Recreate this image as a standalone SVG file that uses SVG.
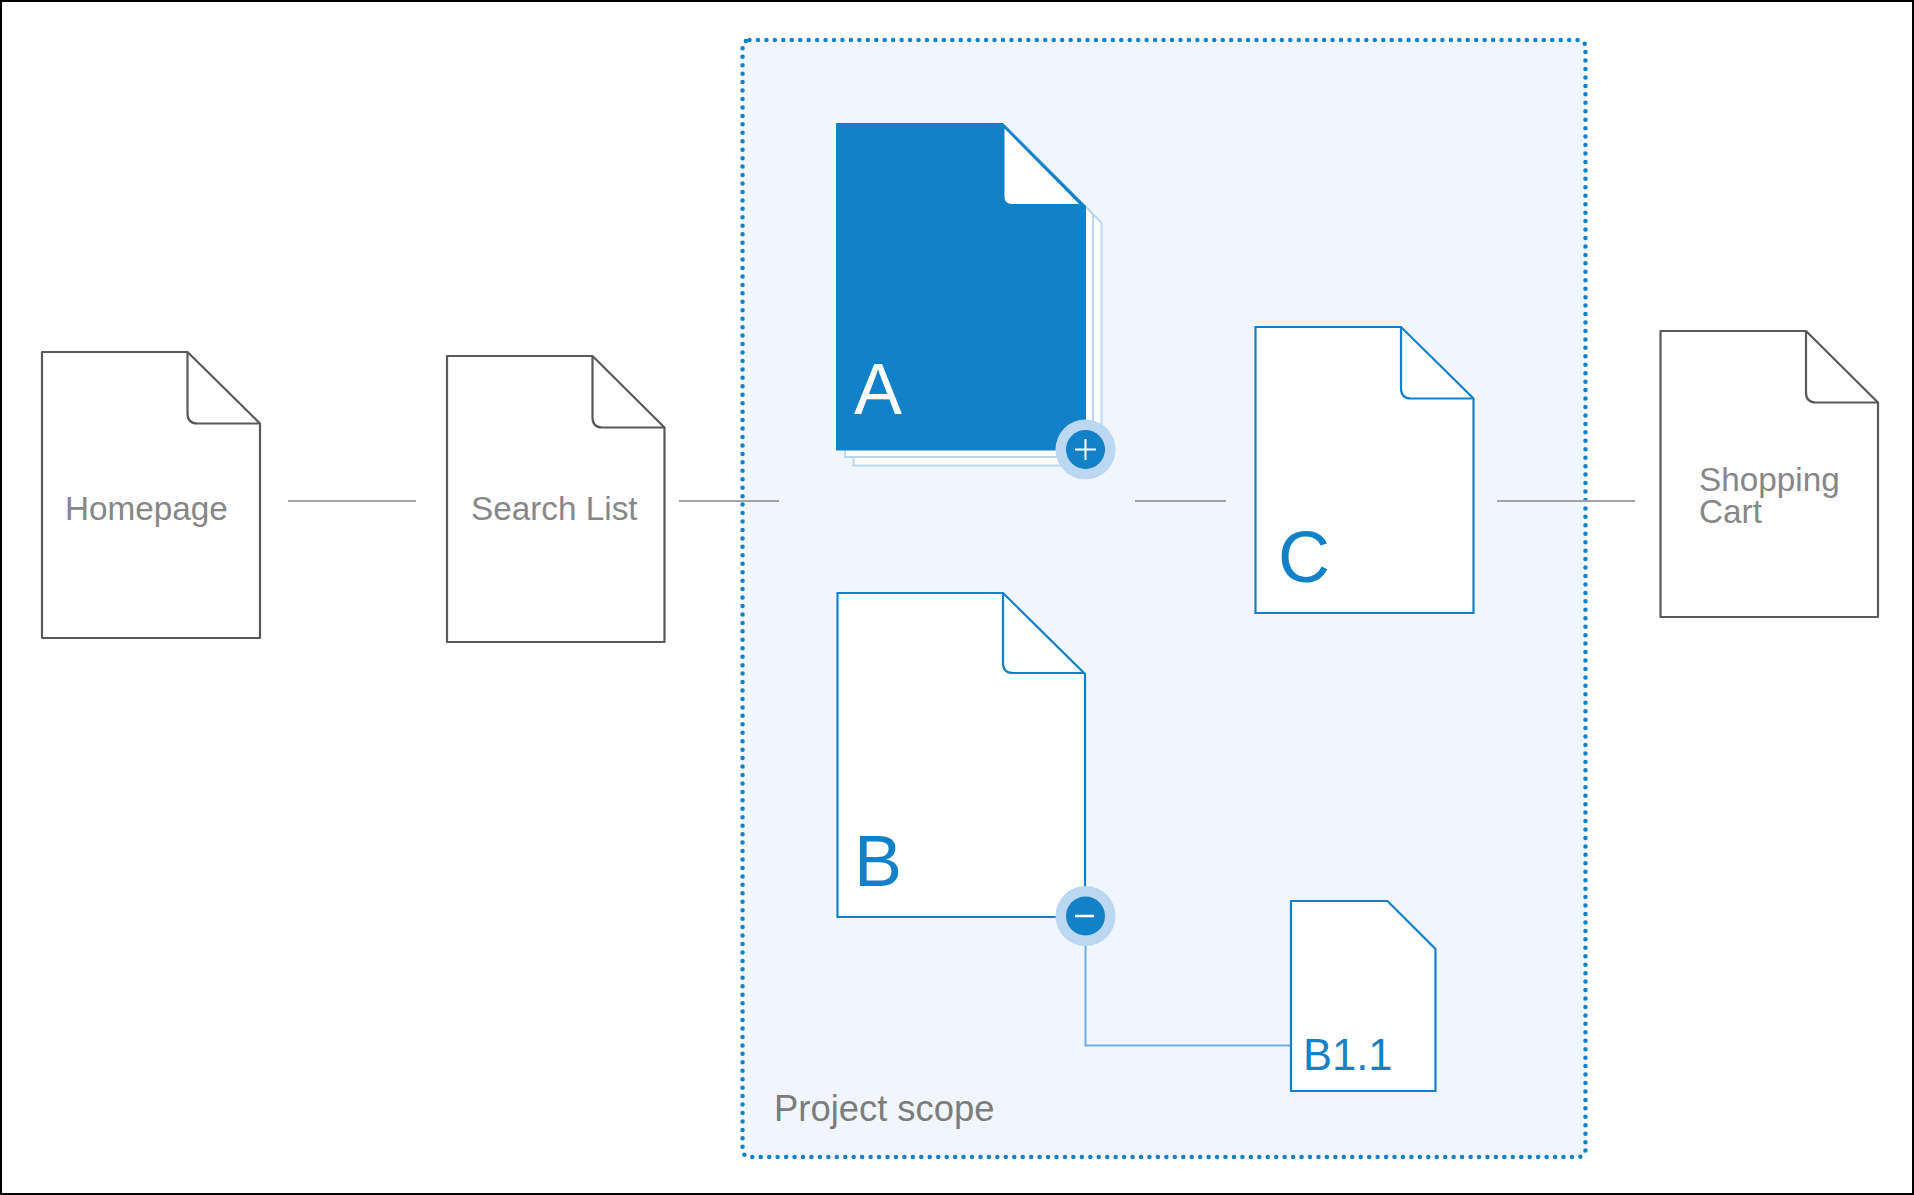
<svg xmlns="http://www.w3.org/2000/svg" width="1914" height="1195" viewBox="0 0 1914 1195">
<style>
text{font-family:"Liberation Sans",Arial,sans-serif}
.g{fill:#fff;stroke:#595959;stroke-width:2.2;stroke-linejoin:round}
.gf{fill:none;stroke:#595959;stroke-width:2.2}
.b{fill:#fff;stroke:#1381c8;stroke-width:2.2}
.bf{fill:none;stroke:#1381c8;stroke-width:2.2}
.l{fill:#878787;font-size:33.3px}
.c{fill:none;stroke:#a3a3a3;stroke-width:2}
.big{fill:#1381c8;font-size:72px}
.st{fill:#fff;stroke:#bcd7f1;stroke-width:2}
</style>
<rect width="1914" height="1195" fill="#fff"/>
<g id="scope">
<rect x="742.500" y="40" width="843" height="1117" rx="7" fill="#f1f6fe" stroke="#1381c8" stroke-width="4.500" stroke-linecap="round" stroke-dasharray="0 8.450"/>
<text x="774" y="1121" font-size="36.400" fill="#7d7d7d">Project scope</text>
</g>
<g id="connectors">
<path class="c" d="M288 501H416"/>
<path class="c" d="M679 501H779"/>
<path class="c" d="M1135 501H1226"/>
<path class="c" d="M1497 501H1635"/>
<path d="M1085.500 946V1045.500H1291" fill="none" stroke="#6aaede" stroke-width="2"/>
</g>
<g id="homepage">
<path class="g" d="M42 352H187.500L260 423.500V638H42Z"/>
<path class="gf" d="M187.500 352V413.500Q187.500 423.500 197.500 423.500H260"/>
<text class="l" x="65" y="520">Homepage</text>
</g>
<g id="search-list">
<path class="g" d="M447 356H592.500L664.500 427.500V642H447Z"/>
<path class="gf" d="M592.500 356V417.500Q592.500 427.500 602.500 427.500H664.500"/>
<text class="l" x="471" y="520">Search List</text>
</g>
<g id="page-a">
<path class="st" d="M1085 206L1101.500 223V465.500H853.500V450Z"/>
<path class="st" d="M1085 206L1093 214.500V457H845V450Z"/>
<path d="M836.500 123.500H1003L1085.500 206V450H836.500Z" fill="#1381c8" stroke="#1381c8" stroke-width="1"/>
<path d="M1004.500 128.500L1079 204H1012Q1004.500 204 1004.500 196.500Z" fill="#fff"/>
<text x="854" y="414" font-size="72" fill="#fff">A</text>
<circle cx="1085.500" cy="449.500" r="30" fill="#bcd7f1"/>
<circle cx="1085.500" cy="449.500" r="19.500" fill="#1381c8"/>
<path d="M1075 449.500H1096M1085.500 439V460" stroke="#fff" stroke-width="2" fill="none"/>
</g>
<g id="page-b">
<path class="b" d="M837.500 593H1003L1085 674V917H837.500Z"/>
<path class="bf" d="M1003 593V663Q1003 673 1013 673H1085"/>
<text class="big" x="854" y="886">B</text>
<circle cx="1085.500" cy="916" r="30" fill="#bcd7f1"/>
<circle cx="1085.500" cy="916" r="19.500" fill="#1381c8"/>
<path d="M1075 916H1094" stroke="#fff" stroke-width="2.500" fill="none"/>
</g>
<g id="page-c">
<path class="b" d="M1255.500 327H1401L1473.500 398.500V613H1255.500Z"/>
<path class="bf" d="M1401 327V388.500Q1401 398.500 1411 398.500H1473.500"/>
<text class="big" x="1278" y="582">C</text>
</g>
<g id="page-b11">
<path class="b" d="M1291 901H1387.500L1435.500 949V1091H1291Z"/>
<text x="1303" y="1070" font-size="43.500" fill="#1381c8">B1.1</text>
</g>
<g id="shopping-cart">
<path class="g" d="M1660.500 331H1806L1878 402.500V617H1660.500Z"/>
<path class="gf" d="M1806 331V392.500Q1806 402.500 1816 402.500H1878"/>
<text class="l" x="1699" y="491">Shopping</text>
<text class="l" x="1699" y="523">Cart</text>
</g>
<rect x="1" y="1" width="1912" height="1193" fill="none" stroke="#000" stroke-width="2"/>
</svg>
